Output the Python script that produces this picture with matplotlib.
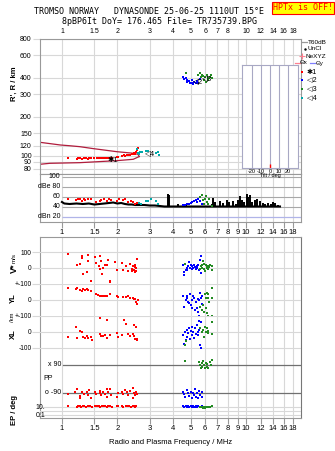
import matplotlib
matplotlib.use("Agg")
import matplotlib.pyplot as plt
from matplotlib.lines import Line2D
from matplotlib.ticker import FixedLocator, FixedFormatter, NullLocator, NullFormatter

# ---- chart values ----
FREQ_TICKS = [1, 1.5, 2, 3, 4, 5, 6, 7, 8, 9, 10, 12, 14, 16, 18]
TOP_LABELS = ["1", "1.5", "2", "3", "4", "5", "6", "7", "8", "", "10", "12", "14", "16", "18"]
BOT_LABELS = ["1", "1.5", "2", "3", "4", "5", "6", "7", "8", "9", "10", "12", "14", "16", "18"]
HEIGHT_TICKS = [80, 90, 100, 120, 150, 200, 300, 400, 600, 800]

# virtual height traces (MHz, km)
red_f = [1.08, 1.20, 1.23, 1.26, 1.29, 1.32, 1.35, 1.38, 1.41, 1.44, 1.50, 1.55, 1.59, 1.63, 1.67,
         1.71, 1.75, 1.79, 1.83, 1.87, 1.98, 2.02, 2.11, 2.17, 2.21, 2.25, 2.30, 2.35, 2.40, 2.44,
         2.47, 2.50, 2.53, 2.56, 2.58]
red_h = [96, 95, 96, 96, 95, 96, 96, 95, 96, 96, 96, 97, 96, 97, 96, 97, 97, 96, 97, 96, 98, 99,
         100, 101, 100, 101, 102, 101, 103, 104, 106, 103, 108, 112, 116]
cyan_f = [2.56, 2.60, 2.62, 2.66, 2.72, 2.86, 2.92, 3.25, 3.32, 3.36]
cyan_h = [114, 106, 104, 108, 107, 110, 109, 105, 108, 102]
blue_f = [4.56, 4.61, 4.71, 4.76, 4.81, 4.91, 4.96, 5.07, 5.12, 5.17, 5.23, 5.33, 5.39, 5.51, 5.62]
blue_h = [409, 391, 398, 386, 374, 381, 364, 386, 368, 357, 374, 364, 381, 368, 391]
green_f = [4.70, 5.51, 5.62, 5.68, 5.74, 5.86, 5.92, 5.99, 6.05, 6.11, 6.18, 6.24, 6.37, 6.44, 6.51]
green_h = [434, 422, 434, 409, 422, 415, 386, 409, 374, 422, 398, 386, 409, 422, 398]

# model profile envelope (dark red)
prof_up_f = [0.76, 0.98, 1.10, 1.25, 1.48, 1.98, 2.44, 2.59, 2.63]
prof_up_h = [127.5, 121.6, 120, 118, 114, 108, 105, 103, 99]
prof_lo_f = [0.76, 0.86, 1.25, 1.98, 2.44, 2.63]
prof_lo_h = [86.3, 87.8, 88.8, 92, 94.3, 99]

trace_text = ["\u27311", "\u25c12", "\u25c13", "\u25c14"]
trace_text_f = [1.90, 5.48, 6.13, 3.01]
trace_text_h = [93, 366, 390, 102]

tilt_deg = [0]
tilt_count = [4]

# amplitude panel (dB)
noise_f = [1.0, 1.03, 1.1, 1.2, 1.3, 1.4, 1.5, 1.6, 1.7, 1.8, 1.9, 2.0, 2.1, 2.2, 2.3, 2.4, 2.5,
           2.6, 2.8, 3.0, 3.2, 3.4, 3.6, 3.8, 4.0, 5.0, 6.0, 7.0, 9.0, 12.0, 15.3]
noise_db = [50, 47, 46, 47, 46, 47, 45, 46, 47, 48, 49, 47, 48, 46, 45, 45, 44, 44, 44, 43, 43,
            42, 41, 41, 41, 41, 41, 41, 41, 41, 41]
spike_f = [3.78, 3.82, 4.29, 4.70, 6.50, 6.64, 6.80, 7.20, 7.50, 7.85, 8.10, 8.53, 8.80, 9.00,
           9.27, 9.50, 9.80, 10.1, 10.3, 10.5, 10.8, 11.2, 11.5, 11.9, 12.3, 12.7, 13.2, 13.6,
           14.0, 14.4, 15.0]
spike_db = [66, 64, 47, 46, 47, 59, 50, 53, 48, 55, 50, 52, 47, 55, 62, 55, 50, 67, 60, 64, 50,
            55, 57, 52, 48, 46, 48, 46, 50, 48, 45]
red_db_f = [1.08, 1.19, 1.22, 1.25, 1.28, 1.31, 1.33, 1.39, 1.43, 1.54, 1.61, 1.64, 1.69, 1.75,
            1.80, 1.84, 2.00, 2.04, 2.14, 2.20, 2.29, 2.36, 2.44, 2.49, 2.55]
red_db = [56, 54, 57, 56, 53, 56, 54, 56, 57, 51, 53, 54, 56, 53, 56, 54, 53, 56, 54, 56, 51, 53,
          51, 47, 48]
cyan_db_f = [2.63, 2.70, 2.86, 2.92, 3.04, 3.23, 3.33]
cyan_db = [48, 47, 53, 53, 57, 53, 47]
blue_db_f = [4.52, 4.66, 4.80, 4.92, 5.00, 5.12, 5.24, 5.35, 5.45, 5.51, 5.62, 5.74]
blue_db = [45, 45, 47, 46, 48, 51, 53, 54, 51, 57, 53, 47]
green_db_f = [5.62, 5.74, 5.86, 5.92, 5.99, 6.05, 6.14, 6.24, 6.30, 6.51]
green_db = [61, 64, 54, 47, 57, 62, 51, 47, 56, 43]

# velocity V* (m/s)
red_v_f = [1.08, 1.20, 1.25, 1.28, 1.28, 1.30, 1.36, 1.38, 1.39, 1.43, 1.51, 1.54, 1.59, 1.61,
           1.62, 1.64, 1.66, 1.68, 1.71, 1.75, 1.79, 1.82, 1.82, 1.94, 2.00, 2.11, 2.15, 2.23,
           2.29, 2.34, 2.39, 2.44, 2.44, 2.49, 2.49, 2.52, 2.55, 2.40, 2.47, 2.50, 2.53]
red_v = [90, 21, 27, 73, 62, -37, -25, 83, 46, -79, 67, 31, 10, -4, 73, 42, -37, 0, 21, 17, 52,
         -87, -79, 37, -10, 31, -10, 10, -21, 25, -21, 10, -10, -25, 21, 0, 58, -5, -15, 5, -20]
blue_v_f = [4.56, 4.61, 4.63, 4.71, 4.76, 4.81, 4.86, 4.91, 4.96, 5.02, 5.07, 5.12, 5.17, 5.23,
            5.28, 5.33, 5.39, 5.44, 5.51, 5.55, 5.62, 5.67, 5.69, 5.74, 5.79]
blue_v = [21, -25, -46, -10, 0, -10, 10, 37, 0, 17, -4, 10, 0, 17, 4, -4, 10, 0, 17, -10, 52, 73,
          -31, 0, 17]
green_v_f = [4.66, 5.62, 5.69, 5.74, 5.86, 5.92, 5.92, 5.99, 6.05, 6.11, 6.18, 6.24, 6.29, 6.37,
             6.51, 6.51, 5.79, 6.14]
green_v = [27, -4, 10, 21, 46, -4, 25, -21, 17, 0, 10, -4, 4, 17, 10, -10, 0, 8]

# YL (km)
red_yl_f = [1.08, 1.19, 1.21, 1.25, 1.28, 1.30, 1.33, 1.36, 1.39, 1.43, 1.54, 1.57, 1.61, 1.64,
            1.68, 1.71, 1.76, 1.82, 2.00, 2.02, 2.14, 2.23, 2.29, 2.34, 2.42, 2.46, 2.49, 2.52,
            2.55, 2.58]
red_yl = [77, 69, 73, 62, 58, 69, 62, 67, 62, 58, 35, 31, 27, 25, 27, 25, 25, 35, 25, 17, 21, 17,
          25, 15, 10, 6, 4, -10, -25, 0]
blue_yl_f = [4.56, 4.63, 4.71, 4.76, 4.81, 4.86, 4.91, 4.96, 5.02, 5.07, 5.12, 5.17, 5.23, 5.28,
             5.33, 5.39, 5.46, 5.51, 5.55, 5.62, 5.69, 5.74, 5.79, 5.55]
blue_yl = [27, -42, 0, 27, 10, -10, -21, 37, -31, 0, -52, 27, 10, -62, -10, -48, -73, 6, -98, 42,
           10, -27, 27, 0]
green_yl_f = [5.99, 6.05, 6.11, 6.18, 6.24, 6.29, 6.51, 6.51, 5.92, 6.05, 6.11, 6.24, 6.51, 5.62,
              5.74, 5.86]
green_yl = [35, 15, 42, 10, 37, -10, 10, 77, -73, -52, -83, -98, -98, -42, -62, -31]

# XL (km)
red_xl_f = [1.08, 1.19, 1.21, 1.25, 1.28, 1.30, 1.33, 1.37, 1.39, 1.43, 1.45, 1.60, 1.61, 1.64,
            1.68, 1.71, 1.75, 1.76, 1.82, 2.00, 2.02, 2.11, 2.17, 2.24, 2.29, 2.34, 2.42, 2.46,
            2.47, 2.49, 2.52, 2.55, 2.57]
red_xl = [-29, 33, -35, 6, -2, -29, -35, -23, -40, -29, -50, 90, -15, -23, -23, -19, 75, -35, -19,
          -8, -29, -19, 75, 50, -15, -23, -15, -23, 44, -44, 33, -46, -50]
blue_xl_f = [4.56, 4.61, 4.66, 4.71, 4.76, 4.81, 4.86, 4.91, 4.96, 5.02, 5.07, 5.12, 5.17, 5.23,
             5.28, 5.33, 5.39, 5.46, 5.51, 5.55, 5.62, 5.67, 5.69, 5.74, 5.58]
blue_xl = [-19, -77, -2, -50, -29, 12, -8, 27, -44, 6, -19, 33, -2, -35, 23, -15, 44, -2, -19, 12,
           -81, 65, -102, -2, 69]
green_xl_f = [5.62, 5.74, 5.86, 5.99, 6.05, 6.11, 6.18, 6.24, 5.92, 6.51, 6.51, 4.66, 4.71]
green_xl = [23, 2, 12, 33, -2, 23, 6, -8, -29, 60, -15, -81, -56]

# polarization PP (deg)
red_pp_f = [1.08, 1.18, 1.21, 1.25, 1.26, 1.28, 1.31, 1.36, 1.38, 1.41, 1.43, 1.51, 1.54, 1.60,
            1.61, 1.64, 1.68, 1.71, 1.75, 1.76, 1.79, 1.82, 1.84, 2.00, 2.02, 2.11, 2.15, 2.19,
            2.25, 2.29, 2.34, 2.42, 2.44, 2.47, 2.49, 2.52, 2.55]
red_pp = [-96, -86, -66, -107, -120, -81, -99, -86, -103, -71, -120, -86, -96, -77, -92, -103,
          -86, -99, -66, -114, -81, -64, -103, -118, -88, -81, -99, -71, -86, -103, -77, -60, -120,
          -92, -103, -81, -99]
blue_pp_f = [4.56, 4.61, 4.66, 4.76, 4.86, 4.92, 5.00, 5.07, 5.17, 5.24, 5.28, 5.35, 5.39, 5.51,
             5.57, 5.62, 5.74, 5.80]
blue_pp = [-81, -99, -114, -71, -92, -107, -81, -120, -88, -103, -66, -114, -92, -120, -77, -103,
           -114, -86]
green_pp_f = [4.66, 5.57, 5.62, 5.74, 5.80, 5.86, 5.92, 5.99, 6.05, 6.11, 6.14, 6.24, 6.37, 6.42,
              6.51, 5.68]
green_pp = [115, 111, 90, 101, 79, 115, 90, 69, 106, 79, 94, 69, 111, 90, 122, 69]

# EP (deg)
red_ep_f = [1.08, 1.20, 1.22, 1.25, 1.27, 1.30, 1.32, 1.35, 1.38, 1.42, 1.45, 1.52, 1.55, 1.58,
            1.62, 1.65, 1.68, 1.72, 1.75, 1.78, 1.82, 1.86, 1.98, 2.02, 2.12, 2.16, 2.22, 2.27,
            2.32, 2.38, 2.42, 2.46, 2.50, 2.54]
red_ep = [14, 13, 15, 14, 13, 14, 15, 13, 14, 14, 13, 14, 15, 14, 13, 14, 14, 15, 13, 14, 14, 13,
          14, 15, 14, 13, 14, 14, 15, 13, 14, 14, 13, 14]
blue_ep_f = [4.56, 4.62, 4.70, 4.78, 4.85, 4.92, 5.00, 5.08, 5.15, 5.22, 5.30, 5.38, 5.45, 5.52,
             5.60, 5.68, 5.76, 5.85]
blue_ep = [14, 13, 15, 12, 14, 13, 15, 12, 14, 13, 12, 14, 13, 15, 12, 13, 14, 12]
green_ep_f = [5.62, 5.70, 5.78, 5.86, 5.95, 6.02, 6.10, 6.18, 6.27, 6.36, 6.51]
green_ep = [10, 8, 12, 7, 10, 6, 9, 12, 8, 10, 18]

W, H = 335, 451
F_MIN, F_MAX = 0.76, 19.9
GRID = "#d8d8d8"
SPINE = "#999999"
RED, BLUE, GREEN, CYAN = "#ff0000", "#0000ff", "#228b22", "#00a8a8"
MS = 1.7

plt.rcParams["font.family"] = ["Liberation Sans", "DejaVu Sans"]
plt.rcParams["font.size"] = 5


def rect(x0, y0, x1, y1):
    return [x0 / W, 1 - y1 / H, (x1 - x0) / W, (y1 - y0) / H]


def fig_xy(x, y):
    return x / W, 1 - y / H


def freq_axis(ax, grid=True):
    ax.set_xscale("log")
    ax.set_xlim(F_MIN, F_MAX)
    ax.xaxis.set_major_locator(FixedLocator(FREQ_TICKS))
    ax.xaxis.set_minor_locator(NullLocator())
    ax.xaxis.set_major_formatter(NullFormatter())
    ax.xaxis.set_minor_formatter(NullFormatter())
    ax.tick_params(axis="x", length=0)
    if grid:
        ax.grid(True, axis="x", color=GRID, lw=0.8)
    for s in ax.spines.values():
        s.set_color(SPINE)


def dots(ax, f, v, color):
    ax.plot(f, v, "s", color=color, ms=MS, mew=0, ls="none")


def row_axis(ax, lo, hi, ticks, labels, scale="linear"):
    freq_axis(ax, grid=False)
    ax.set_facecolor("none")
    for s in ax.spines.values():
        s.set_visible(False)
    ax.set_yscale(scale)
    ax.set_ylim(lo, hi)
    ax.yaxis.set_major_locator(FixedLocator(ticks))
    ax.yaxis.set_major_formatter(FixedFormatter(labels))
    ax.yaxis.set_minor_locator(NullLocator())
    ax.yaxis.set_minor_formatter(NullFormatter())
    ax.tick_params(axis="y", length=5.5, color=GRID, pad=0.5, labelsize=4.8)
    ax.grid(True, axis="y", color=GRID, lw=0.8)


def legend(fig):
    def line(x0, x1, y, color):
        fig.add_artist(Line2D([x0 / W, x1 / W], [1 - y / H] * 2, color=color, lw=0.9))

    def mark(x, y, **kw):
        fig.add_artist(Line2D([x / W], [1 - y / H], ls="none", **kw))

    line(302, 307, 42, "#999999")
    fig.text(*fig_xy(308, 42), "T60dB", size=4.6, va="center")
    mark(305, 49, marker=".", color="k", ms=1.5)
    fig.text(*fig_xy(308, 49), "UnCl", size=4.6, va="center")
    mark(302, 56, marker="+", color="#ff8090", ms=4, mew=0.8)
    fig.text(*fig_xy(305, 56), "NeXYZ", size=4.6, va="center")
    line(295, 300, 63, "#ff8090")
    fig.text(*fig_xy(300, 63), "\u0398x", size=4.4, va="center")
    line(310, 315, 63, "#8080ff")
    fig.text(*fig_xy(316, 63), "\u0398y", size=4.4, va="center")
    for text, col, y in zip(trace_text, [RED, BLUE, GREEN, CYAN], [72, 80, 89, 98]):
        mark(302, y, marker="s", color=col, ms=2, mew=0)
        fig.text(*fig_xy(307, y), text, size=5.2, va="center")


def main():
    fig = plt.figure(figsize=(W / 100, H / 100), dpi=100)

    # header
    fig.text(*fig_xy(149, 12), "TROMSO NORWAY   DYNASONDE 25-06-25 1110UT 15\u00b0E",
             family="DejaVu Sans Mono", size=6, ha="center", va="center")
    fig.text(*fig_xy(159, 21), "8pBP6It DoY= 176.465 File= TR735739.BPG",
             family="DejaVu Sans Mono", size=6, ha="center", va="center")
    fig.text(*fig_xy(303, 8), "HPTx is OFF!", family="DejaVu Sans Mono", size=6,
             color="red", ha="center", va="center",
             bbox=dict(boxstyle="square,pad=0.15", fc="#ffff00", ec="red", lw=0.8))

    # height panel
    ax_h = fig.add_axes(rect(40, 39, 301, 174))
    freq_axis(ax_h)
    ax_h.set_yscale("log")
    ax_h.set_ylim(72.6, 800)
    ax_h.yaxis.set_major_locator(FixedLocator(HEIGHT_TICKS))
    ax_h.yaxis.set_major_formatter(FixedFormatter([str(t) for t in HEIGHT_TICKS]))
    ax_h.yaxis.set_minor_locator(NullLocator())
    ax_h.yaxis.set_minor_formatter(NullFormatter())
    ax_h.grid(True, axis="y", color=GRID, lw=0.8)
    ax_h.tick_params(axis="y", length=5, color=GRID, pad=1)
    ax_h.xaxis.set_major_formatter(FixedFormatter(TOP_LABELS))
    ax_h.tick_params(axis="x", top=True, labeltop=True, bottom=False, labelbottom=False,
                     length=0, pad=3)
    ax_h.plot(prof_up_f, prof_up_h, color="#b01c3c", lw=0.9)
    ax_h.plot(prof_lo_f, prof_lo_h, color="#b01c3c", lw=0.9)
    dots(ax_h, red_f, red_h, RED)
    dots(ax_h, cyan_f, cyan_h, CYAN)
    dots(ax_h, blue_f, blue_h, BLUE)
    dots(ax_h, green_f, green_h, GREEN)
    for t, f, h in zip(trace_text, trace_text_f, trace_text_h):
        ax_h.text(f, h, t, size=5.5, ha="center", va="center")

    # tilt inset
    ax_t = fig.add_axes(rect(242, 65, 298, 168))
    ax_t.set_xlim(-31.1, 31.1)
    ax_t.set_ylim(0, 100)
    ax_t.set_xticks([-20, -10, 0, 10, 20])
    ax_t.set_xticklabels(["-20", "-10", "0", "10", "20"])
    ax_t.set_yticks([])
    ax_t.tick_params(axis="x", length=0, pad=1, labelsize=4)
    ax_t.grid(True, axis="x", color="#a8a8c4", lw=0.8)
    for s in ax_t.spines.values():
        s.set_color("#a8a8c4")
    ax_t.vlines(tilt_deg, 0, tilt_count, color="red", lw=1)
    fig.text(*fig_xy(270, 175.5), "Tilt / deg", size=4, ha="center", va="center")

    legend(fig)

    # amplitude panel
    ax_d = fig.add_axes(rect(40, 174, 301, 222))
    freq_axis(ax_d)
    ax_d.set_ylim(10, 106)
    ax_d.set_yticks([])
    ax_d.hlines([100, 80, 60, 40], 1.0, F_MAX, colors="#a8a8a8", lw=0.8)
    ax_d.hlines([20], 1.0, F_MAX, colors="#b0b4e8", lw=0.9)
    for lab, y in zip(["100", "dBe 80", "60", "40", "dBn 20"], [100, 80, 60, 40, 20]):
        ax_d.text(0.98, y, lab, size=5, ha="right", va="center")
    ax_d.xaxis.set_major_formatter(FixedFormatter(BOT_LABELS))
    ax_d.tick_params(axis="x", bottom=True, labelbottom=True, length=4, color=SPINE, pad=1,
                     labelsize=5.5)
    ax_d.plot(noise_f, noise_db, color="k", lw=1.5)
    ax_d.vlines(spike_f, 41, spike_db, color="k", lw=1.4)
    dots(ax_d, red_db_f, red_db, RED)
    dots(ax_d, cyan_db_f, cyan_db, CYAN)
    dots(ax_d, blue_db_f, blue_db, BLUE)
    dots(ax_d, green_db_f, green_db, GREEN)

    # lower panel frame
    ax_l = fig.add_axes(rect(40, 237, 301, 418))
    freq_axis(ax_l)
    ax_l.set_yticks([])
    ax_l.spines["right"].set_color("#777777")
    ax_l.xaxis.set_major_formatter(FixedFormatter(BOT_LABELS))
    ax_l.tick_params(axis="x", bottom=True, labelbottom=True, length=4, color=SPINE, pad=1,
                     labelsize=5.5)
    ax_l.set_xlabel("Radio and Plasma Frequency / MHz", size=5.5, labelpad=5)

    ax_v = fig.add_axes(rect(40, 237, 301, 284))
    row_axis(ax_v, -100, 193.75, [100, 0], ["100", "0"])
    dots(ax_v, red_v_f, red_v, RED)
    dots(ax_v, blue_v_f, blue_v, BLUE)
    dots(ax_v, green_v_f, green_v, GREEN)

    ax_y = fig.add_axes(rect(40, 284, 301, 316))
    row_axis(ax_y, -100, 100, [100, 0], ["+-100", "0"])
    dots(ax_y, red_yl_f, red_yl, RED)
    dots(ax_y, blue_yl_f, blue_yl, BLUE)
    dots(ax_y, green_yl_f, green_yl, GREEN)

    ax_x = fig.add_axes(rect(40, 316, 301, 357))
    row_axis(ax_x, -156.25, 100, [100, 0, -100], ["+-100", "0", "-100"])
    dots(ax_x, red_xl_f, red_xl, RED)
    dots(ax_x, blue_xl_f, blue_xl, BLUE)
    dots(ax_x, green_xl_f, green_xl, GREEN)

    ax_p = fig.add_axes(rect(40, 357, 301, 400))
    row_axis(ax_p, -135, 141.4, [], [])
    ax_p.grid(False)
    ax_p.axhline(90, xmin=0.088, color="#707070", lw=0.9)
    ax_p.axhline(-90, xmin=0.088, color="#707070", lw=0.9)
    ax_p.text(0.995, 90, "x 90", size=5, ha="right", va="center")
    ax_p.text(0.995, -90, "o -90", size=5, ha="right", va="center")
    ax_p.text(0.79, 0, "PP", size=5, ha="left", va="center")
    dots(ax_p, red_pp_f, red_pp, RED)
    dots(ax_p, blue_pp_f, blue_pp, BLUE)
    dots(ax_p, green_pp_f, green_pp, GREEN)

    ax_e = fig.add_axes(rect(40, 400, 301, 418))
    row_axis(ax_e, 0.0178, 562, [10, 1, 0.1], ["", "", ""], scale="log")
    ax_e.tick_params(axis="y", length=0)
    ax_e.text(0.81, 10, "10.", size=5, ha="right", va="center")
    ax_e.text(0.81, 0.1, "0.1", size=5, ha="right", va="center")
    dots(ax_e, red_ep_f, red_ep, RED)
    dots(ax_e, blue_ep_f, blue_ep, BLUE)
    dots(ax_e, green_ep_f, green_ep, GREEN)

    # axis titles
    fig.text(*fig_xy(14, 84), "R', R / km", size=5.5, weight="bold", rotation=90,
             ha="center", va="center")
    fig.text(*fig_xy(14, 268), "V*", size=6.5, weight="bold", rotation=90, ha="center", va="center")
    fig.text(*fig_xy(14, 258), "m/s", size=4.5, rotation=90, ha="center", va="center")
    fig.text(*fig_xy(13, 298), "YL", size=5.5, weight="bold", rotation=90, ha="center", va="center")
    fig.text(*fig_xy(12.5, 317), "/km", size=4.2, rotation=90, ha="center", va="center")
    fig.text(*fig_xy(13, 334), "XL", size=5.5, weight="bold", rotation=90, ha="center", va="center")
    fig.text(*fig_xy(14, 410), "EP / deg", size=5.5, weight="bold", rotation=90,
             ha="center", va="center")

    fig.savefig("out.png", dpi=100)


if __name__ == "__main__":
    main()
